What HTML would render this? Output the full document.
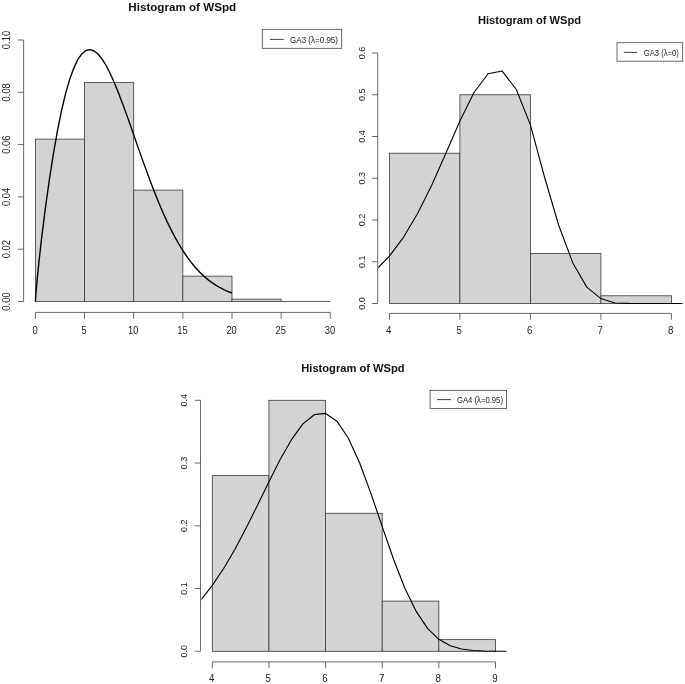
<!DOCTYPE html>
<html lang="en"><head><meta charset="utf-8"><title>Histogram of WSpd</title>
<style>
html,body{margin:0;padding:0;background:#fff;}
svg{display:block;font-family:"Liberation Sans",Arial,sans-serif;}
</style></head>
<body>
<svg width="685" height="684" viewBox="0 0 685 684">
<rect width="685" height="684" fill="#fff"/>
<rect x="35.4" y="139.11" width="49.15" height="162.39" fill="#d3d3d3" stroke="#3a3a3a" stroke-width="0.8"/>
<rect x="84.55" y="82.36" width="49.15" height="219.14" fill="#d3d3d3" stroke="#3a3a3a" stroke-width="0.8"/>
<rect x="133.7" y="190.1" width="49.15" height="111.4" fill="#d3d3d3" stroke="#3a3a3a" stroke-width="0.8"/>
<rect x="182.85" y="276.13" width="49.15" height="25.37" fill="#d3d3d3" stroke="#3a3a3a" stroke-width="0.8"/>
<rect x="232" y="299.15" width="49.15" height="2.35" fill="#d3d3d3" stroke="#3a3a3a" stroke-width="0.8"/>
<path d="M281.15,301.5H330.3" stroke="#3a3a3a" stroke-width="0.8"/>
<clipPath id="c1"><rect x="23.6" y="0" width="317.4" height="684"/></clipPath>
<polyline clip-path="url(#c1)" points="35.4,301.5 35.89,294.01 36.58,285.82 37.56,275.35 39.14,260.09 41.32,240.68 45.38,208.07 49.45,179 53.51,153.06 57.58,130.13 61.64,110.17 65.71,93.17 69.77,79.1 73.84,67.89 77.9,59.46 81.96,53.71 86.03,50.49 90.09,49.63 94.16,50.96 98.22,54.28 102.29,59.36 106.35,66 110.42,73.97 114.48,83.06 118.55,93.04 122.61,103.71 126.68,114.87 130.74,126.35 134.81,137.98 138.87,149.61 142.94,161.11 147,172.36 151.06,183.27 155.13,193.76 159.19,203.75 163.26,213.22 167.32,222.11 171.39,230.42 175.45,238.13 179.52,245.23 183.58,251.75 187.65,257.69 191.71,263.07 195.78,267.93 199.84,272.29 203.91,276.18 207.97,279.64 212.04,282.69 216.1,285.39 220.16,287.74 224.23,289.8 228.29,291.59 232,293" fill="none" stroke="#000" stroke-width="1.4" stroke-linejoin="round" stroke-linecap="butt"/>
<path d="M35.4,312.4H330.3M35.4,312.4v6.4M84.55,312.4v6.4M133.7,312.4v6.4M182.85,312.4v6.4M232,312.4v6.4M281.15,312.4v6.4M330.3,312.4v6.4" fill="none" stroke="#444" stroke-width="0.8"/>
<text transform="translate(35,333.5) scale(0.94,1)" font-size="10.0" text-anchor="middle" fill="#222">0</text>
<text transform="translate(84.15,333.5) scale(0.94,1)" font-size="10.0" text-anchor="middle" fill="#222">5</text>
<text transform="translate(133.3,333.5) scale(0.94,1)" font-size="10.0" text-anchor="middle" fill="#222">10</text>
<text transform="translate(182.45,333.5) scale(0.94,1)" font-size="10.0" text-anchor="middle" fill="#222">15</text>
<text transform="translate(231.6,333.5) scale(0.94,1)" font-size="10.0" text-anchor="middle" fill="#222">20</text>
<text transform="translate(280.75,333.5) scale(0.94,1)" font-size="10.0" text-anchor="middle" fill="#222">25</text>
<text transform="translate(329.9,333.5) scale(0.94,1)" font-size="10.0" text-anchor="middle" fill="#222">30</text>
<path d="M23.6,301.5V40M23.6,301.5h-5.8M23.6,249.2h-5.8M23.6,196.9h-5.8M23.6,144.6h-5.8M23.6,92.3h-5.8M23.6,40h-5.8" fill="none" stroke="#444" stroke-width="0.8"/>
<text transform="translate(10.1,301.5) rotate(-90) scale(0.94,1)" font-size="10.0" text-anchor="middle" fill="#222">0.00</text>
<text transform="translate(10.1,249.2) rotate(-90) scale(0.94,1)" font-size="10.0" text-anchor="middle" fill="#222">0.02</text>
<text transform="translate(10.1,196.9) rotate(-90) scale(0.94,1)" font-size="10.0" text-anchor="middle" fill="#222">0.04</text>
<text transform="translate(10.1,144.6) rotate(-90) scale(0.94,1)" font-size="10.0" text-anchor="middle" fill="#222">0.06</text>
<text transform="translate(10.1,92.3) rotate(-90) scale(0.94,1)" font-size="10.0" text-anchor="middle" fill="#222">0.08</text>
<text transform="translate(10.1,40) rotate(-90) scale(0.94,1)" font-size="10.0" text-anchor="middle" fill="#222">0.10</text>
<text transform="translate(182.2,10.5) scale(1.012,1)" font-size="11.5" font-weight="bold" text-anchor="middle" fill="#111">Histogram of WSpd</text>
<rect x="262.3" y="29.3" width="79.4" height="19" fill="#fff" stroke="#444" stroke-width="0.8"/>
<path d="M270,39.4H283.8" stroke="#111" stroke-width="0.8"/>
<text transform="translate(290.1,42.7) scale(0.892,1)" font-size="9.0" fill="#222">GA3 (λ=0.95)</text>
<rect x="389.4" y="153.2" width="70.5" height="150.3" fill="#d3d3d3" stroke="#3a3a3a" stroke-width="0.8"/>
<rect x="459.9" y="94.75" width="70.5" height="208.75" fill="#d3d3d3" stroke="#3a3a3a" stroke-width="0.8"/>
<rect x="530.4" y="253.4" width="70.5" height="50.1" fill="#d3d3d3" stroke="#3a3a3a" stroke-width="0.8"/>
<rect x="600.9" y="295.78" width="70.5" height="7.72" fill="#d3d3d3" stroke="#3a3a3a" stroke-width="0.8"/>
<clipPath id="c2"><rect x="378.2" y="0" width="304.3" height="684"/></clipPath>
<polyline clip-path="url(#c2)" points="361.2,281.25 375.3,270.61 389.4,256.19 403.5,237.3 417.6,213.56 431.7,185.18 445.8,153.42 459.9,121.01 474,92.48 488.1,73.77 502.2,71.05 516.3,89.53 530.4,124.88 544.5,177 558.6,225.01 572.7,262.65 586.8,287.11 600.9,298.56 615,303 629.1,303.42 643.2,303.5 657.3,303.5 671.4,303.5 685.5,303.5 699.6,303.5" fill="none" stroke="#000" stroke-width="1.1" stroke-linejoin="round" stroke-linecap="butt"/>
<path d="M389.4,313.4H671.4M389.4,313.4v6.4M459.9,313.4v6.4M530.4,313.4v6.4M600.9,313.4v6.4M671.4,313.4v6.4" fill="none" stroke="#444" stroke-width="0.8"/>
<text transform="translate(388.8,334.3) scale(0.97,1)" font-size="10" text-anchor="middle" fill="#222">4</text>
<text transform="translate(459.3,334.3) scale(0.97,1)" font-size="10" text-anchor="middle" fill="#222">5</text>
<text transform="translate(529.8,334.3) scale(0.97,1)" font-size="10" text-anchor="middle" fill="#222">6</text>
<text transform="translate(600.3,334.3) scale(0.97,1)" font-size="10" text-anchor="middle" fill="#222">7</text>
<text transform="translate(670.8,334.3) scale(0.97,1)" font-size="10" text-anchor="middle" fill="#222">8</text>
<path d="M377.7,303.5V53M377.7,303.5h-5.8M377.7,261.75h-5.8M377.7,220h-5.8M377.7,178.25h-5.8M377.7,136.5h-5.8M377.7,94.75h-5.8M377.7,53h-5.8" fill="none" stroke="#444" stroke-width="0.8"/>
<text transform="translate(364.7,303.5) rotate(-90) scale(0.94,1)" font-size="9.6" text-anchor="middle" fill="#222">0.0</text>
<text transform="translate(364.7,261.75) rotate(-90) scale(0.94,1)" font-size="9.6" text-anchor="middle" fill="#222">0.1</text>
<text transform="translate(364.7,220) rotate(-90) scale(0.94,1)" font-size="9.6" text-anchor="middle" fill="#222">0.2</text>
<text transform="translate(364.7,178.25) rotate(-90) scale(0.94,1)" font-size="9.6" text-anchor="middle" fill="#222">0.3</text>
<text transform="translate(364.7,136.5) rotate(-90) scale(0.94,1)" font-size="9.6" text-anchor="middle" fill="#222">0.4</text>
<text transform="translate(364.7,94.75) rotate(-90) scale(0.94,1)" font-size="9.6" text-anchor="middle" fill="#222">0.5</text>
<text transform="translate(364.7,53) rotate(-90) scale(0.94,1)" font-size="9.6" text-anchor="middle" fill="#222">0.6</text>
<text transform="translate(529.5,24.4) scale(0.968,1)" font-size="11.5" font-weight="bold" text-anchor="middle" fill="#111">Histogram of WSpd</text>
<rect x="617" y="42.7" width="65.7" height="18.5" fill="#fff" stroke="#444" stroke-width="0.8"/>
<path d="M623.7,52.4H637.1" stroke="#111" stroke-width="0.8"/>
<text transform="translate(643.7,55.7) scale(0.874,1)" font-size="8.8" fill="#222">GA3 (λ=0)</text>
<rect x="212.3" y="475.6" width="56.64" height="175.7" fill="#d3d3d3" stroke="#3a3a3a" stroke-width="0.8"/>
<rect x="268.94" y="400.3" width="56.64" height="251" fill="#d3d3d3" stroke="#3a3a3a" stroke-width="0.8"/>
<rect x="325.58" y="513.25" width="56.64" height="138.05" fill="#d3d3d3" stroke="#3a3a3a" stroke-width="0.8"/>
<rect x="382.22" y="601.1" width="56.64" height="50.2" fill="#d3d3d3" stroke="#3a3a3a" stroke-width="0.8"/>
<rect x="438.86" y="639.63" width="56.64" height="11.67" fill="#d3d3d3" stroke="#3a3a3a" stroke-width="0.8"/>
<clipPath id="c3"><rect x="201.4" y="0" width="305" height="684"/></clipPath>
<polyline clip-path="url(#c3)" points="189.64,611.92 200.97,599.88 212.3,585.43 223.63,568.51 234.96,549.21 246.28,527.85 257.61,505.05 268.94,481.77 280.27,459.34 291.6,439.42 302.92,423.9 314.25,414.69 325.58,413.43 336.91,421.16 348.24,437.96 359.56,462.77 370.89,493.35 382.22,526.64 393.55,559.24 404.88,588.18 416.2,611.44 427.53,628.34 438.86,639.35 450.19,645.74 461.52,649.02 472.84,650.48 484.17,651.05 495.5,651.23 506.83,651.29 518.16,651.3" fill="none" stroke="#000" stroke-width="1.15" stroke-linejoin="round" stroke-linecap="butt"/>
<path d="M212.3,661.9H495.5M212.3,661.9v6.4M268.94,661.9v6.4M325.58,661.9v6.4M382.22,661.9v6.4M438.86,661.9v6.4M495.5,661.9v6.4" fill="none" stroke="#444" stroke-width="0.8"/>
<text transform="translate(211.7,682.3) scale(0.976,1)" font-size="10" text-anchor="middle" fill="#222">4</text>
<text transform="translate(268.34,682.3) scale(0.976,1)" font-size="10" text-anchor="middle" fill="#222">5</text>
<text transform="translate(324.98,682.3) scale(0.976,1)" font-size="10" text-anchor="middle" fill="#222">6</text>
<text transform="translate(381.62,682.3) scale(0.976,1)" font-size="10" text-anchor="middle" fill="#222">7</text>
<text transform="translate(438.26,682.3) scale(0.976,1)" font-size="10" text-anchor="middle" fill="#222">8</text>
<text transform="translate(494.9,682.3) scale(0.976,1)" font-size="10" text-anchor="middle" fill="#222">9</text>
<path d="M200.5,651.3V400.3M200.5,651.3h-5.8M200.5,588.55h-5.8M200.5,525.8h-5.8M200.5,463.05h-5.8M200.5,400.3h-5.8" fill="none" stroke="#444" stroke-width="0.8"/>
<text transform="translate(186.9,651.3) rotate(-90) scale(0.93,1)" font-size="9.6" text-anchor="middle" fill="#222">0.0</text>
<text transform="translate(186.9,588.55) rotate(-90) scale(0.93,1)" font-size="9.6" text-anchor="middle" fill="#222">0.1</text>
<text transform="translate(186.9,525.8) rotate(-90) scale(0.93,1)" font-size="9.6" text-anchor="middle" fill="#222">0.2</text>
<text transform="translate(186.9,463.05) rotate(-90) scale(0.93,1)" font-size="9.6" text-anchor="middle" fill="#222">0.3</text>
<text transform="translate(186.9,400.3) rotate(-90) scale(0.93,1)" font-size="9.6" text-anchor="middle" fill="#222">0.4</text>
<text transform="translate(352.9,371.6) scale(0.969,1)" font-size="11.5" font-weight="bold" text-anchor="middle" fill="#111">Histogram of WSpd</text>
<rect x="430.1" y="390.4" width="76.5" height="18" fill="#fff" stroke="#444" stroke-width="0.8"/>
<path d="M437.2,399.6H450.9" stroke="#111" stroke-width="0.8"/>
<text transform="translate(456.9,402.9) scale(0.899,1)" font-size="8.6" fill="#222">GA4 (λ=0.95)</text>
</svg>
</body></html>
